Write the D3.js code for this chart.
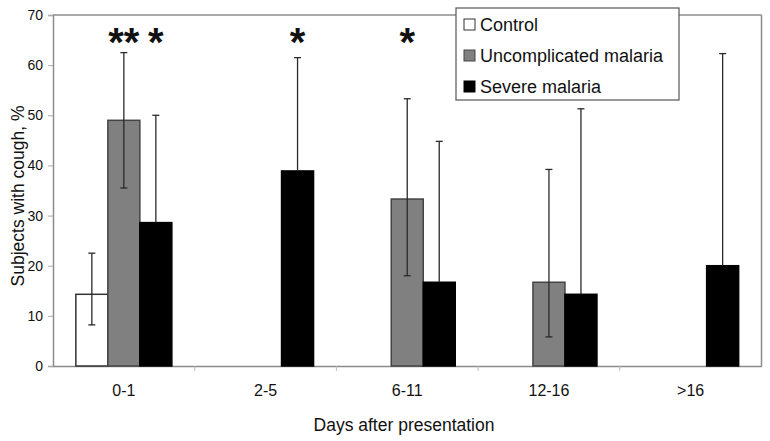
<!DOCTYPE html>
<html>
<head>
<meta charset="utf-8">
<script src="https://cdn.jsdelivr.net/npm/d3@7"></script>
<style>
  html, body { margin: 0; padding: 0; background: #fff; }
  svg { display: block; }
  text { font-family: "Liberation Sans", Arial, sans-serif; fill: #111; }
</style>
</head>
<body>
<svg id="chart" width="770" height="441"></svg>
<script>
// ---- data ----
const categories = ["0-1", "2-5", "6-11", "12-16", ">16"];
const seriesNames = ["Control", "Uncomplicated malaria", "Severe malaria"];
const controlValues = [14.3, null, null, null, null];
const uncomplicatedValues = [49.0, null, 33.3, 16.7, null];
const severeValues = [28.6, 38.9, 16.7, 14.3, 20.0];
const controlUpper = [22.5, null, null, null, null];
const controlLower = [8.2, null, null, null, null];
const uncomplicatedUpper = [62.5, null, 53.3, 39.2, null];
const uncomplicatedLower = [35.5, null, 18.0, 5.8, null];
const severeUpper = [50.0, 61.5, 44.8, 51.3, 62.3];
const yTicks = [0, 10, 20, 30, 40, 50, 60, 70];
const starCategories = ["0-1", "0-1", "2-5", "6-11"];
const starSeries = ["Uncomplicated malaria", "Severe malaria", "Severe malaria", "Uncomplicated malaria"];
const starLabels = ["**", "*", "*", "*"];

const valuesBySeries = [controlValues, uncomplicatedValues, severeValues];
const upperBySeries = [controlUpper, uncomplicatedUpper, severeUpper];
const lowerBySeries = [controlLower, uncomplicatedLower, severeValues];
const fills = ["#ffffff", "#808080", "#000000"];
const strokes = ["#333333", "#444444", "#000000"];

// ---- layout ----
const svg = d3.select("#chart");
const plotLeft = 53, plotRight = 761.5, plotTop = 15, plotBottom = 366;

const x0 = d3.scaleBand().domain(categories).range([plotLeft, plotRight]).paddingInner(0).paddingOuter(0);
const bw = x0.bandwidth();
const groupW = 96;
const x1 = d3.scaleBand().domain(seriesNames).range([(bw - groupW) / 2, (bw + groupW) / 2]).padding(0);
const y = d3.scaleLinear().domain([0, 70]).range([plotBottom, plotTop]);

// plot frame (top and right)
svg.append("line").attr("x1", plotLeft).attr("x2", plotRight).attr("y1", plotTop).attr("y2", plotTop)
  .attr("stroke", "#8c8c8c").attr("stroke-width", 1.5);
svg.append("line").attr("x1", plotRight).attr("x2", plotRight).attr("y1", plotTop).attr("y2", plotBottom)
  .attr("stroke", "#8c8c8c").attr("stroke-width", 1.5);

// y axis
const yAxis = d3.axisLeft(y).tickValues(yTicks).tickSize(5).tickPadding(5).tickFormat(d3.format("d"));
const gy = svg.append("g").attr("transform", `translate(${plotLeft},0)`).call(yAxis);
gy.select(".domain").attr("stroke", "#8c8c8c").attr("stroke-width", 1.5);
gy.selectAll(".tick line").attr("stroke", "#aaaaaa");
gy.selectAll(".tick text").attr("font-size", 14).attr("fill", "#222")
  .style("font-family", "'Liberation Sans', Arial, sans-serif");

// x axis
const xAxis = d3.axisBottom(x0).tickSize(0).tickPadding(19);
const gx = svg.append("g").attr("transform", `translate(0,${plotBottom})`).call(xAxis);
gx.select(".domain").attr("stroke", "#8c8c8c").attr("stroke-width", 1.5);
gx.selectAll(".tick text").attr("font-size", 16).attr("fill", "#222")
  .style("font-family", "'Liberation Sans', Arial, sans-serif");
gx.selectAll(".sep").data(categories.slice(1)).enter().append("line")
  .attr("x1", d => x0(d)).attr("x2", d => x0(d))
  .attr("y1", 0).attr("y2", 5).attr("stroke", "#bbbbbb");

// bars
seriesNames.forEach((s, si) => {
  const vals = valuesBySeries[si];
  const data = categories.map((c, i) => ({ c, v: vals[i], up: upperBySeries[si][i], lo: lowerBySeries[si][i] }))
    .filter(d => d.v != null);
  const g = svg.append("g");
  g.selectAll("rect").data(data).enter().append("rect")
    .attr("x", d => x0(d.c) + x1(s))
    .attr("y", d => y(d.v))
    .attr("width", x1.bandwidth())
    .attr("height", d => y(0) - y(d.v))
    .attr("fill", fills[si])
    .attr("stroke", strokes[si])
    .attr("stroke-width", 1.5);
  const eg = svg.append("g").attr("stroke", "#2a2a2a").attr("stroke-width", 1.3);
  data.forEach(d => {
    const cx = x0(d.c) + x1(s) + x1.bandwidth() / 2;
    eg.append("line").attr("x1", cx).attr("x2", cx).attr("y1", y(d.lo)).attr("y2", y(d.up));
    eg.append("line").attr("x1", cx - 3.5).attr("x2", cx + 3.5).attr("y1", y(d.up)).attr("y2", y(d.up));
    if (d.lo !== d.v) {
      eg.append("line").attr("x1", cx - 3.5).attr("x2", cx + 3.5).attr("y1", y(d.lo)).attr("y2", y(d.lo));
    }
  });
});

// significance stars
starLabels.forEach((t, i) => {
  svg.append("text")
    .attr("x", x0(starCategories[i]) + x1(starSeries[i]) + x1.bandwidth() / 2)
    .attr("y", 56)
    .attr("text-anchor", "middle")
    .attr("font-size", 40)
    .attr("font-weight", "bold")
    .attr("fill", "#111")
    .text(t);
});

// axis titles
svg.append("text")
  .attr("transform", `translate(24,196) rotate(-90)`)
  .attr("text-anchor", "middle")
  .attr("font-size", 17.5)
  .text("Subjects with cough, %");
svg.append("text")
  .attr("x", 404).attr("y", 431)
  .attr("text-anchor", "middle")
  .attr("font-size", 17.5)
  .text("Days after presentation");

// legend
const lg = svg.append("g");
lg.append("rect").attr("x", 456).attr("y", 8).attr("width", 223).attr("height", 92)
  .attr("fill", "#fff").attr("stroke", "#555").attr("stroke-width", 1.2);
seriesNames.forEach((s, i) => {
  const cy = 24 + i * 31;
  lg.append("rect").attr("x", 464).attr("y", cy - 5).attr("width", 11).attr("height", 11)
    .attr("fill", fills[i]).attr("stroke", strokes[i]).attr("stroke-width", 1);
  lg.append("text").attr("x", 480).attr("y", cy + 6.5)
    .attr("font-size", 18).text(s);
});
</script>
</body>
</html>
